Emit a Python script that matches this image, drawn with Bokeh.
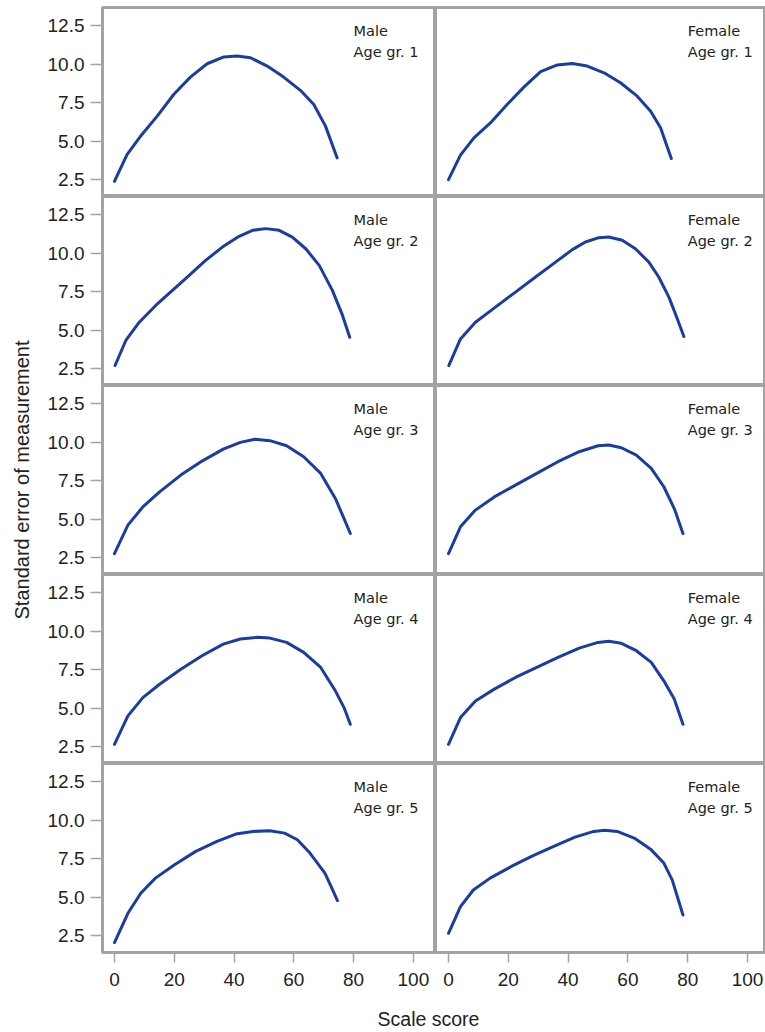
from bokeh.plotting import figure
from bokeh.layouts import gridplot, row, column
from bokeh.models import FixedTicker, PrintfTickFormatter, Label, Range1d, Grid
from bokeh.embed import file_html
from bokeh.resources import INLINE

sexes = ["Male", "Female"]
age_groups = ["Age gr. 1", "Age gr. 2", "Age gr. 3", "Age gr. 4", "Age gr. 5"]
x_ticks = [0, 20, 40, 60, 80, 100]
y_ticks = [2.5, 5.0, 7.5, 10.0, 12.5]
x_title = "Scale score"
y_title = "Standard error of measurement"

x_male_1 = [0, 4.2, 8.7, 14.3, 19.8, 25.4, 31.0, 36.6, 41.0, 45.5, 51.1, 56.6, 62.2, 66.7, 70.6, 74.5]
y_male_1 = [2.39, 4.13, 5.32, 6.63, 8.04, 9.17, 10.04, 10.48, 10.54, 10.43, 9.89, 9.17, 8.31, 7.39, 5.98, 3.91]
x_female_1 = [0, 4.0, 8.5, 14.0, 19.6, 25.2, 30.8, 36.4, 41.4, 46.4, 52.0, 57.5, 63.1, 67.6, 70.9, 74.5]
y_female_1 = [2.5, 4.09, 5.22, 6.19, 7.39, 8.52, 9.52, 9.96, 10.05, 9.89, 9.45, 8.80, 7.93, 6.95, 5.87, 3.87]

x_male_2 = [0.2, 3.8, 8.3, 13.8, 19.4, 25.0, 30.5, 36.1, 41.7, 46.2, 50.6, 55.1, 59.5, 64.0, 68.5, 72.9, 76.3, 78.7]
y_male_2 = [2.70, 4.33, 5.52, 6.61, 7.59, 8.57, 9.54, 10.41, 11.11, 11.50, 11.61, 11.50, 11.06, 10.30, 9.22, 7.59, 5.96, 4.54]
x_female_2 = [0.1, 4.0, 9.0, 15.7, 22.4, 29.1, 35.8, 41.4, 45.8, 50.3, 53.6, 58.1, 62.5, 67.0, 70.3, 73.7, 76.5, 78.7]
y_female_2 = [2.70, 4.43, 5.52, 6.50, 7.48, 8.46, 9.43, 10.24, 10.74, 11.02, 11.06, 10.85, 10.30, 9.43, 8.46, 7.15, 5.74, 4.59]

x_male_3 = [0, 4.5, 9.5, 15.1, 22.2, 29.3, 36.4, 42.1, 47.0, 52.0, 57.6, 63.3, 69.0, 73.9, 76.8, 78.9]
y_male_3 = [2.76, 4.61, 5.80, 6.78, 7.87, 8.78, 9.56, 10.0, 10.2, 10.11, 9.78, 9.06, 7.98, 6.35, 5.04, 4.07]
x_female_3 = [0, 4.0, 9.0, 15.3, 22.4, 29.5, 36.6, 43.7, 50.0, 53.6, 57.8, 62.8, 67.8, 72.0, 75.5, 78.4]
y_female_3 = [2.76, 4.50, 5.59, 6.45, 7.22, 7.98, 8.74, 9.39, 9.78, 9.83, 9.65, 9.17, 8.31, 7.11, 5.69, 4.07]

x_male_4 = [0, 4.5, 9.5, 15.1, 22.2, 29.3, 36.4, 42.1, 47.7, 52.0, 57.6, 63.3, 69.0, 73.9, 76.8, 78.9]
y_male_4 = [2.65, 4.50, 5.69, 6.56, 7.54, 8.41, 9.17, 9.50, 9.61, 9.56, 9.28, 8.63, 7.65, 6.13, 5.04, 3.95]
x_female_4 = [0, 4.0, 9.0, 15.3, 22.4, 29.5, 36.6, 43.7, 50.0, 53.6, 57.8, 62.8, 67.8, 72.0, 75.5, 78.4]
y_female_4 = [2.65, 4.39, 5.47, 6.24, 7.00, 7.65, 8.31, 8.91, 9.28, 9.35, 9.22, 8.74, 7.98, 6.78, 5.59, 3.95]

x_male_5 = [0, 4.5, 8.8, 13.7, 20.1, 27.2, 34.3, 40.6, 46.3, 52.0, 56.9, 61.2, 65.4, 70.4, 72.5, 74.6]
y_male_5 = [2.05, 3.95, 5.26, 6.24, 7.11, 7.98, 8.63, 9.11, 9.28, 9.32, 9.17, 8.74, 7.87, 6.56, 5.69, 4.78]
x_female_5 = [0, 4.0, 8.3, 13.9, 21.0, 28.1, 35.2, 42.3, 48.6, 52.2, 56.4, 62.1, 67.8, 72.0, 74.8, 78.4]
y_female_5 = [2.65, 4.39, 5.47, 6.24, 7.00, 7.69, 8.31, 8.91, 9.28, 9.35, 9.28, 8.85, 8.08, 7.22, 6.13, 3.84]

series = {
    ("Male", 0): (x_male_1, y_male_1), ("Female", 0): (x_female_1, y_female_1),
    ("Male", 1): (x_male_2, y_male_2), ("Female", 1): (x_female_2, y_female_2),
    ("Male", 2): (x_male_3, y_male_3), ("Female", 2): (x_female_3, y_female_3),
    ("Male", 3): (x_male_4, y_male_4), ("Female", 3): (x_female_4, y_female_4),
    ("Male", 4): (x_male_5, y_male_5), ("Female", 4): (x_female_5, y_female_5),
}

LINE = "#1b3da3"
BORDER = "#a3a3a3"
TXT = "#222222"
FONT = "Liberation Sans"
ROW_H = 189
TOP_PAD = 7
X_AX_H = 44


def kill_grids(p):
    for g in p.select(type=Grid):
        g.visible = False


def style_axis(ax, tick_out):
    ax.axis_line_color = None
    ax.major_tick_line_color = BORDER
    ax.major_tick_line_width = 1.5
    ax.major_tick_out = tick_out
    ax.major_tick_in = 0
    ax.minor_tick_line_color = None
    ax.major_label_text_font = FONT
    ax.major_label_text_font_size = "19px"
    ax.major_label_text_color = TXT


def make_panel(ci, ri):
    left = ci == 0
    top = ri == 0
    bottom = ri == len(age_groups) - 1
    w = 397 if left else 330
    h = ROW_H + (X_AX_H if bottom else 0) + (TOP_PAD if top else 0)
    xr = Range1d(-4.0, 107.4) if left else Range1d(-4.35, 106.0)
    p = figure(width=w, height=h, output_backend="svg", toolbar_location=None,
               x_range=xr, y_range=Range1d(1.4, 13.7),
               x_axis_location="below" if bottom else None,
               y_axis_location="left" if left else None,
               min_border=0)
    p.min_border_left = 64 if left else 0
    p.min_border_right = 0
    p.min_border_top = TOP_PAD if top else 0
    p.min_border_bottom = X_AX_H if bottom else 0
    p.outline_line_color = BORDER
    p.outline_line_width = 3
    p.background_fill_color = "white"
    p.border_fill_color = "white"
    if bottom:
        ax = p.xaxis[0]
        style_axis(ax, 10)
        ax.ticker = FixedTicker(ticks=x_ticks)
        ax.major_label_standoff = 10
    if left:
        ay = p.yaxis[0]
        style_axis(ay, 12)
        ay.ticker = FixedTicker(ticks=y_ticks)
        ay.formatter = PrintfTickFormatter(format="%.1f")
        ay.major_label_standoff = 6
    kill_grids(p)
    xs, ys = series[(sexes[ci], ri)]
    p.line(xs, ys, line_color=LINE, line_width=3, line_join="round", line_cap="round")
    for txt, yy in ((sexes[ci], 12.72), (age_groups[ri], 11.31)):
        p.add_layout(Label(x=80, y=yy, text=txt, text_baseline="top", text_align="left",
                           text_font="DejaVu Sans", text_font_size="14.5px", text_color=TXT))
    return p


children = []
for ri in range(len(age_groups)):
    children.append([make_panel(ci, ri) for ci in range(len(sexes))])

grid = gridplot(children, toolbar_location=None)

# y title spanning all rows
ytf = figure(width=38, height=TOP_PAD + ROW_H * 5 + X_AX_H, output_backend="svg",
             toolbar_location=None, x_range=Range1d(0, 1), y_range=Range1d(0, 1),
             x_axis_location=None, y_axis_location="left", min_border=0)
ytf.min_border_left = 36
ytf.min_border_right = 0
ytf.min_border_top = TOP_PAD
ytf.min_border_bottom = X_AX_H
ytf.outline_line_color = None
ya = ytf.yaxis[0]
ya.ticker = FixedTicker(ticks=[])
ya.axis_line_color = None
ya.major_tick_out = 0
ya.major_tick_in = 0
ya.minor_tick_line_color = None
ya.major_label_standoff = 0
ya.axis_label = y_title
ya.axis_label_text_font = FONT
ya.axis_label_text_font_size = "20px"
ya.axis_label_text_font_style = "normal"
ya.axis_label_text_color = TXT
ya.axis_label_standoff = 4
kill_grids(ytf)

# x title spanning both columns
xtf = figure(width=716, height=36, output_backend="svg", toolbar_location=None,
             x_range=Range1d(0, 1), y_range=Range1d(0, 1), x_axis_location="below",
             y_axis_location=None, min_border=0)
xtf.min_border_left = 64
xtf.min_border_right = 0
xtf.min_border_top = 0
xtf.min_border_bottom = 33
xtf.outline_line_color = None
xa = xtf.xaxis[0]
xa.ticker = FixedTicker(ticks=[])
xa.axis_line_color = None
xa.major_tick_out = 0
xa.major_tick_in = 0
xa.minor_tick_line_color = None
xa.major_label_standoff = 0
xa.axis_label = x_title
xa.axis_label_text_font = FONT
xa.axis_label_text_font_size = "19.5px"
xa.axis_label_text_font_style = "normal"
xa.axis_label_text_color = TXT
xa.axis_label_standoff = 8
kill_grids(xtf)

layout = row(ytf, column(grid, xtf))

open("out.html", "w").write(file_html(layout, INLINE))
